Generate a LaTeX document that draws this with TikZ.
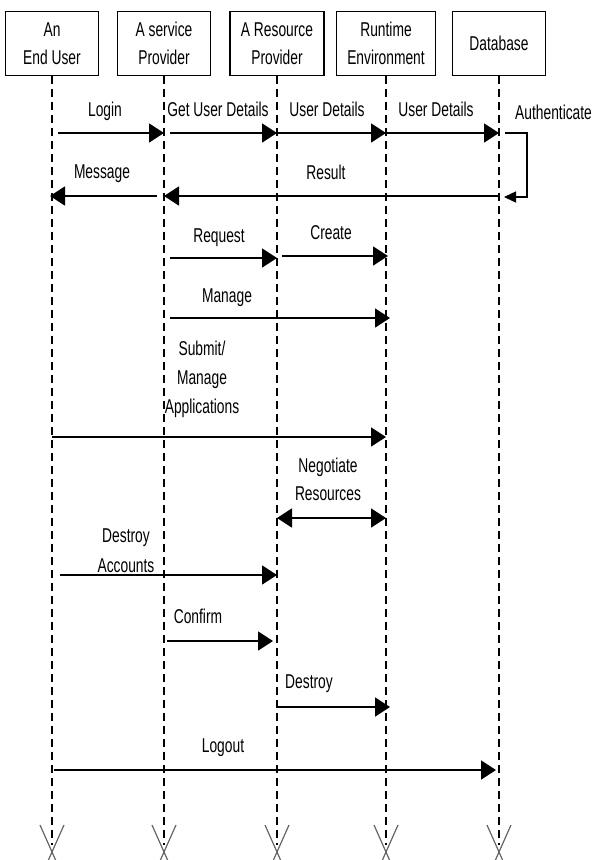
\documentclass[tikz,border=0pt]{standalone}
\usepackage{fontspec}
\setmainfont{Liberation Sans}[FakeStretch=0.69]
\usetikzlibrary{arrows.meta}
\begin{document}
\begin{tikzpicture}[x=1pt,y=-1pt,
  actor/.style={draw, line width=1.8pt, minimum width=93pt, minimum height=64pt,
    inner sep=0pt, align=center, font=\fontsize{20}{28}\selectfont},
  life/.style={line width=2.4pt, dash pattern=on 8pt off 5pt},
  msg/.style={line width=1.8pt, -{Triangle[length=15pt,width=19pt]}},
  both/.style={line width=1.8pt, {Triangle[length=15pt,width=19pt]}-{Triangle[length=15pt,width=19pt]}},
  selfmsg/.style={line width=1.4pt, -{Triangle[length=12pt,width=11pt]}},
  lbl/.style={anchor=base, inner sep=0pt, align=center, font=\fontsize{20}{29}\selectfont},
  endmark/.style={line width=1.2pt, draw=black!60}]
\useasboundingbox (0,0) rectangle (592,860);
\clip (0,0) rectangle (592,860);

% participants
\node[actor] (eu) at (52,43.5) {An\\End User};
\node[actor] (sp) at (164,43.5) {A service\\Provider};
\node[actor, minimum width=94pt] (rp) at (277,43.5) {A Resource\\Provider};
\node[actor, minimum width=99pt] (rt) at (386,43.5) {Runtime\\Environment};
\node[actor] (db) at (499,43.5) {\raisebox{-2pt}{Database}};

% lifelines and their end marks
\foreach \n in {eu,sp,rp,rt,db}{
  \draw[life] (\n.south) -- (\n.south |- 0,845);
  \draw[endmark] (\n.south |- 0,825) ++(-12,0) -- ++(24,54) ++(0,-54) -- ++(-24,54);
}

% login and authentication
\draw[msg, shorten <=6pt] (eu.south |- 0,133) -- (sp.south |- 0,133);
\node[lbl] (l1) at (105,116) {Login};
\draw[msg, shorten <=6pt] (sp.south |- 0,133) -- (rp.south |- 0,133);
\node[lbl] (l2) at (218,116) {Get User Details};
\draw[msg] (rp.south |- 0,133) -- (rt.south |- 0,133);
\node[lbl] (l3) at (327,116) {User Details};
\draw[msg] (rt.south |- 0,133) -- (db.south |- 0,133);
\node[lbl] (l4) at (436,116) {User Details};
\coordinate (a1) at (527,133);
\coordinate (a2) at (527,197);
\draw[selfmsg, shorten <=6pt, shorten >=5pt] (db.south |- 0,133) -- (a1) -- (a2) -- (db.south |- 0,197);
\node[lbl, anchor=base west] (l5) at (515,119) {Authenticate};
\draw[msg] (db.south |- 0,196) -- (sp.south |- 0,196);
\node[lbl] (l6) at (326,179) {Result};
\draw[msg, shorten <=7pt, shorten >=-2pt] (sp.south |- 0,196) -- (eu.south |- 0,196);
\node[lbl] (l7) at (102,178) {Message};

% resource handling
\draw[msg, shorten <=6pt] (sp.south |- 0,258) -- (rp.south |- 0,258);
\node[lbl] (l8) at (219,242) {Request};
\draw[msg, shorten <=5pt, shorten >=-2pt] (rp.south |- 0,256) -- (rt.south |- 0,256);
\node[lbl] (l9) at (331,239) {Create};
\draw[msg, shorten <=6pt, shorten >=-4pt] (sp.south |- 0,318) -- (rt.south |- 0,318);
\node[lbl] (l10) at (227,302) {Manage};
\draw[msg] (eu.south |- 0,437) -- (rt.south |- 0,437);
\node[lbl] (l11) at (202,413) {Submit/\\Manage\\Applications};
\draw[both] (rp.south |- 0,518) -- (rt.south |- 0,518);
\node[lbl, font=\fontsize{20}{28}\selectfont] (l12) at (328,500) {Negotiate\\Resources};

% teardown
\draw[msg, shorten <=8pt] (eu.south |- 0,575) -- (rp.south |- 0,575);
\node[lbl, font=\fontsize{20}{30}\selectfont] (l13) at (126,572) {Destroy\\Accounts};
\draw[msg, shorten <=3pt, shorten >=4pt] (sp.south |- 0,641) -- (rp.south |- 0,641);
\node[lbl] (l14) at (198,623) {Confirm};
\draw[msg, shorten >=-4pt] (rp.south |- 0,707) -- (rt.south |- 0,707);
\node[lbl] (l15) at (309,688) {Destroy};
\draw[msg, shorten <=2pt, shorten >=3pt] (eu.south |- 0,770) -- (db.south |- 0,770);
\node[lbl] (l16) at (223,752) {Logout};
\end{tikzpicture}
\end{document}
